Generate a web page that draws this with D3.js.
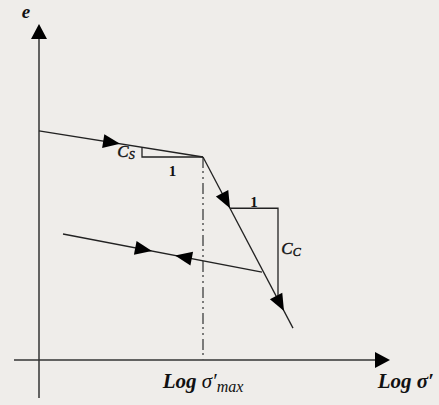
<!DOCTYPE html>
<html>
<head>
<meta charset="utf-8">
<script src="https://cdn.jsdelivr.net/npm/d3@7"></script>
<style>
  body { margin: 0; background: #efedea; }
  svg { display: block; }
  text { font-family: "Liberation Serif", "DejaVu Serif", serif; fill: #111; }
</style>
</head>
<body>
<script>
// schematic e - log sigma' curve, x = log sigma', y = void ratio e
var recompression = [[0, 0.818], [1.64, 0.725]];
var virgin = [[1.64, 0.725], [2.54, 0.114]];
var unloading = [[2.23, 0.314], [0.24, 0.45]];
var csTriangle = [[1.03, 0.760], [1.03, 0.725], [1.64, 0.725]];
var ccTriangle = [[1.91, 0.542], [2.39, 0.542], [2.39, 0.216]];
var sigmaMax = 1.64;
// arrow heads: segment from -> to, tip at fraction t
var arrows = [
  {from: [0, 0.818], to: [1.64, 0.725], t: 0.494},
  {from: [1.64, 0.725], to: [2.54, 0.114], t: 0.30},
  {from: [1.64, 0.725], to: [2.54, 0.114], t: 0.90},
  {from: [0.24, 0.45], to: [2.23, 0.314], t: 0.447},
  {from: [2.23, 0.314], to: [0.24, 0.45], t: 0.437}
];

var width = 439, height = 405;

var x = d3.scaleLinear().domain([0, 3.5]).range([39, 389]);
var y = d3.scaleLinear().domain([0, 1.2]).range([360, 24]);

var svg = d3.select("body").append("svg")
    .attr("width", width)
    .attr("height", height);

var line = d3.line()
    .x(function(d) { return x(d[0]); })
    .y(function(d) { return y(d[1]); });

// axes
svg.append("line")
    .attr("x1", x(-0.25)).attr("y1", y(0))
    .attr("x2", x(3.40)).attr("y2", y(0))
    .attr("stroke", "#333").attr("stroke-width", 1.5);
svg.append("line")
    .attr("x1", x(0)).attr("y1", y(-0.136))
    .attr("x2", x(0)).attr("y2", y(1.15))
    .attr("stroke", "#333").attr("stroke-width", 1.5);

function head(tip, dx, dy, len, half) {
  var n = Math.sqrt(dx * dx + dy * dy);
  var ux = dx / n, uy = dy / n;
  var bx = tip[0] - ux * len, by = tip[1] - uy * len;
  return [tip, [bx - uy * half, by + ux * half], [bx + uy * half, by - ux * half]];
}

// axis arrow heads
svg.append("path")
    .attr("d", d3.line()(head([x(3.51), y(0)], 1, 0, 15, 8)) + "Z")
    .attr("fill", "#000");
svg.append("path")
    .attr("d", d3.line()(head([x(0), y(1.2)], 0, -1, 15, 8)) + "Z")
    .attr("fill", "#000");

// sigma'max dash-dot line
svg.append("line")
    .attr("x1", x(sigmaMax)).attr("y1", y(0.725))
    .attr("x2", x(sigmaMax)).attr("y2", y(0))
    .attr("stroke", "#555").attr("stroke-width", 1.5)
    .attr("stroke-dasharray", "11,3,2,4,2,4");

[recompression, virgin, unloading, csTriangle, ccTriangle].forEach(function(d) {
  svg.append("path")
      .attr("d", line(d))
      .attr("fill", "none")
      .attr("stroke", "#222")
      .attr("stroke-width", 1.3);
});

// curve arrow heads
arrows.forEach(function(a) {
  var p0 = [x(a.from[0]), y(a.from[1])], p1 = [x(a.to[0]), y(a.to[1])];
  var tip = [p0[0] + (p1[0] - p0[0]) * a.t, p0[1] + (p1[1] - p0[1]) * a.t];
  svg.append("path")
      .attr("d", d3.line()(head(tip, p1[0] - p0[0], p1[1] - p0[1], 17, 7)) + "Z")
      .attr("fill", "#000");
});

// labels
svg.append("text")
    .attr("x", 26).attr("y", 18)
    .attr("text-anchor", "middle")
    .style("font-size", "19px").style("font-weight", "bold").style("font-style", "italic")
    .text("e");

var lm = svg.append("text")
    .attr("x", x(sigmaMax)).attr("y", 388)
    .attr("text-anchor", "middle")
    .style("font-size", "21px").style("font-style", "italic");
lm.append("tspan").style("font-weight", "bold").text("Log ");
lm.append("tspan").text("σ′");
lm.append("tspan").attr("dy", 4).style("font-size", "16px").text("max");

var ls = svg.append("text")
    .attr("x", 434).attr("y", 388)
    .attr("text-anchor", "end")
    .style("font-size", "21px").style("font-style", "italic").style("font-weight", "bold");
ls.append("tspan").text("Log σ′");

var cs = svg.append("text")
    .attr("x", 126).attr("y", 157)
    .attr("text-anchor", "middle")
    .style("font-size", "17px").style("font-style", "italic")
    .attr("stroke", "#111").attr("stroke-width", 0.4);
cs.append("tspan").text("C");
cs.append("tspan").attr("dy", 2).style("font-size", "12px").text("S");

svg.append("text")
    .attr("x", (x(1.03) + x(1.64)) / 2).attr("y", 176)
    .attr("text-anchor", "middle")
    .style("font-size", "15px").style("font-weight", "bold")
    .text("1");

svg.append("text")
    .attr("x", (x(1.91) + x(2.39)) / 2).attr("y", 207)
    .attr("text-anchor", "middle")
    .style("font-size", "15px").style("font-weight", "bold")
    .text("1");

var cc = svg.append("text")
    .attr("x", 291).attr("y", 254)
    .attr("text-anchor", "middle")
    .style("font-size", "17px").style("font-style", "italic")
    .attr("stroke", "#111").attr("stroke-width", 0.4);
cc.append("tspan").text("C");
cc.append("tspan").attr("dy", 2).style("font-size", "12px").text("C");
</script>
</body>
</html>
